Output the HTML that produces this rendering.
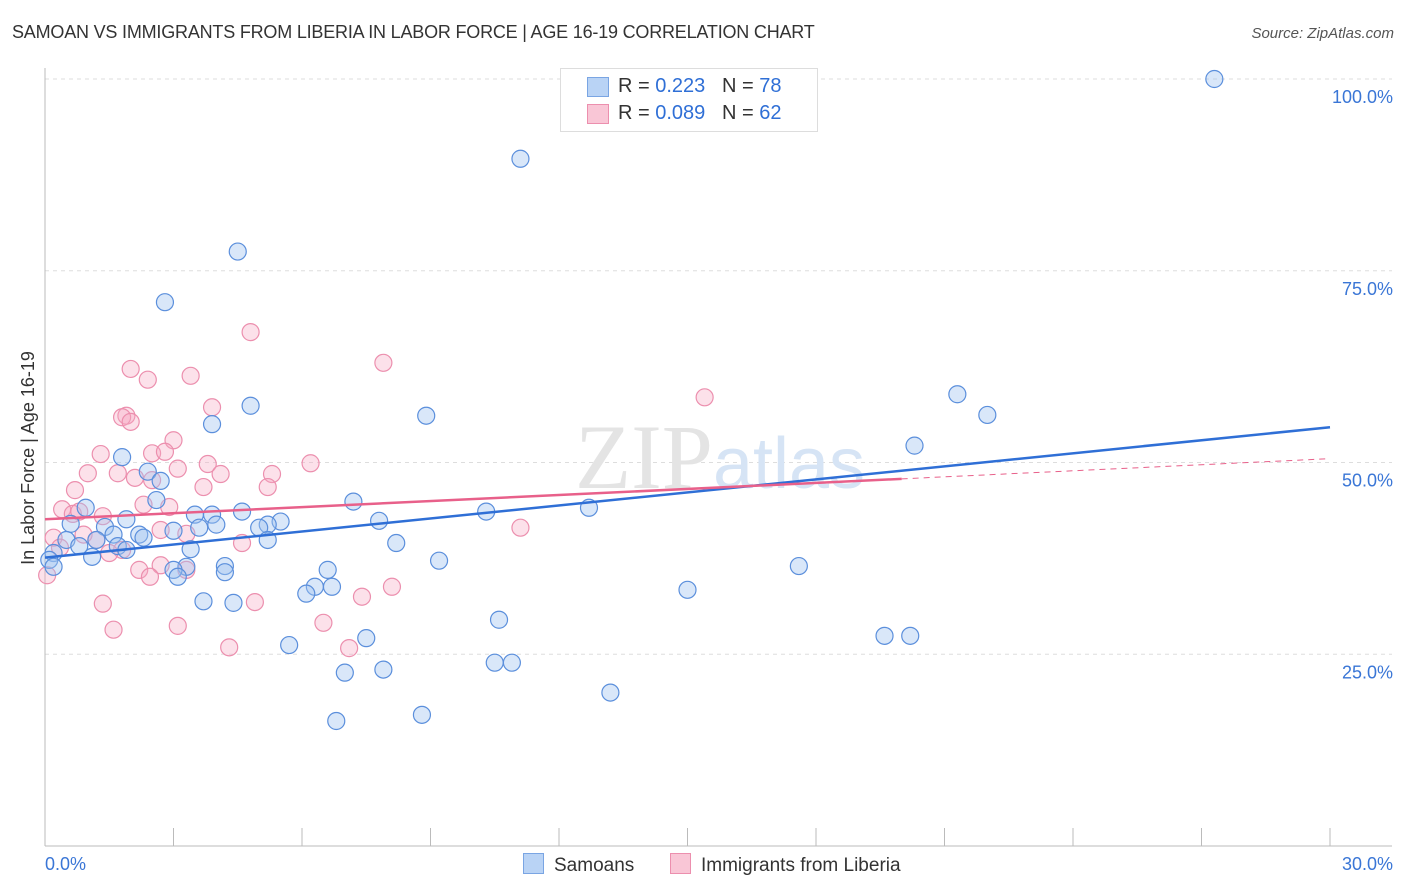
<!DOCTYPE html>
<html><head><meta charset="utf-8">
<style>
body{margin:0;background:#fff;font-family:"Liberation Sans",sans-serif;}
#wrap{position:relative;width:1406px;height:892px;overflow:hidden;}
.t{position:absolute;white-space:nowrap;}
</style></head>
<body>
<div id="wrap">
<div class="t" style="left:12px;top:22px;font-size:18px;color:#333;letter-spacing:-0.2px;">SAMOAN VS IMMIGRANTS FROM LIBERIA IN LABOR FORCE | AGE 16-19 CORRELATION CHART</div>
<div class="t" style="right:12px;top:25px;font-size:15px;color:#555;font-style:italic;">Source: ZipAtlas.com</div>
<svg id="chart" width="1406" height="892" style="position:absolute;left:0;top:0"></svg>
</div>
<script>
const xTicks=[0,3,6,9,12,15,18,21,24,27,30];
const yTicks=[25,50,75,100];
const blueX=[27.3,14.0,11.1,4.5,2.8,4.8,8.9,21.3,22.0,3.9,20.3,1.8,2.4,2.7,2.6,7.2,0.95,12.7,10.3,4.6,3.9,3.5,7.8,5.5,1.9,0.6,1.4,4.0,5.2,5.0,3.0,3.6,1.6,2.2,2.3,5.2,1.2,0.5,8.2,1.7,0.8,1.9,3.4,0.2,1.1,0.1,0.2,9.2,17.6,4.2,3.3,3.0,4.2,6.6,3.1,6.3,6.7,6.1,15.0,3.7,4.4,10.6,7.5,19.6,20.2,5.7,10.5,10.9,7.9,7.0,13.2,8.8,6.8];
const blueY=[100,100,89.6,77.5,70.9,57.4,56.1,58.9,56.2,55.0,52.2,50.7,48.8,47.6,45.1,44.9,44.1,44.1,43.6,43.6,43.2,43.2,42.4,42.3,42.6,42.0,41.6,41.9,41.9,41.5,41.1,41.5,40.6,40.6,40.2,39.9,39.9,39.9,39.5,39.1,39.1,38.6,38.7,38.2,37.7,37.3,36.4,37.2,36.5,36.5,36.4,36.0,35.7,36.0,35.1,33.8,33.8,32.9,33.4,31.9,31.7,29.5,27.1,27.4,27.4,26.2,23.9,23.9,23.0,22.6,20.0,17.1,16.3];
const pinkX=[4.8,7.9,2.0,2.4,3.4,15.4,3.9,1.9,1.8,2.0,3.0,1.3,2.5,2.8,3.8,6.2,1.0,1.7,3.1,5.3,4.1,2.1,2.5,3.7,5.2,0.7,2.3,2.9,0.4,0.65,0.8,1.35,11.1,2.7,3.3,0.9,0.2,1.2,4.6,0.35,1.8,1.5,2.7,3.3,2.2,0.05,2.45,8.1,7.4,1.35,4.9,6.5,3.1,1.6,4.3,7.1];
const pinkY=[67.0,63.0,62.2,60.8,61.3,58.5,57.2,56.1,55.9,55.3,52.9,51.1,51.2,51.4,49.8,49.9,48.6,48.6,49.2,48.5,48.5,48.0,47.7,46.8,46.8,46.4,44.5,44.2,43.9,43.3,43.6,43.0,41.5,41.2,40.7,40.6,40.2,39.9,39.5,38.9,38.6,38.2,36.6,36.0,36.0,35.3,35.1,33.8,32.5,31.6,31.8,29.1,28.7,28.2,25.9,25.8];
const blueFit=[37.6,54.6];
const pinkFit=[42.6,50.5];
const pinkSolidEnd=20;

const X=v=>45+v/30*1285;
const Y=v=>846-v/100*767;
const svg=document.getElementById('chart');
const NS='http://www.w3.org/2000/svg';
function mk(t,a){const e=document.createElementNS(NS,t);for(const k in a)e.setAttribute(k,a[k]);svg.appendChild(e);return e;}

// gridlines
yTicks.forEach(v=>{
 const g=mk('line',{x1:45,x2:1392,y1:Y(v),y2:Y(v),stroke:'#ddd','stroke-dasharray':'4,4'});
 
 
 const t=mk('text',{x:1393,y:Y(v)+24,'text-anchor':'end','font-size':18,fill:'#3a76d6','font-family':'Liberation Sans, sans-serif'});
 t.textContent=v.toFixed(1)+'%';
 
 
});
// axes
const ya=mk('line',{x1:45,x2:45,y1:68,y2:846,stroke:'#bbb'});


const xa=mk('line',{x1:45,x2:1392,y1:846,y2:846,stroke:'#bbb'});


xTicks.forEach(v=>{
 const l=mk('line',{x1:X(v),x2:X(v),y1:828,y2:846,stroke:'#bbb'});
 
 
});
[[0,'start',45],[30,'end',1393]].forEach(([v,a,x])=>{
 const t=mk('text',{x:x,y:870,'text-anchor':a,'font-size':18,fill:'#3a76d6','font-family':'Liberation Sans, sans-serif'});
 t.textContent=v.toFixed(1)+'%';
 
 
});
const yt=mk('text',{x:0,y:0,transform:'translate(34,458) rotate(-90)','text-anchor':'middle','font-size':18,fill:'#333','font-family':'Liberation Sans, sans-serif'});
yt.textContent='In Labor Force | Age 16-19';


// watermark
const wm=mk('text',{x:720,y:488,'text-anchor':'middle','font-size':92,fill:'#e4e4e4','font-family':'Liberation Serif, serif'});
wm.innerHTML='ZIP<tspan fill="#d6e4f5" font-family="Liberation Sans, sans-serif" font-size="72">atlas</tspan>';


// points
pinkX.forEach((x,i)=>{
 const c=mk('circle',{cx:X(x),cy:Y(pinkY[i]),r:8.5,fill:'rgba(246,170,195,0.35)',stroke:'#ec8fae','stroke-width':1.2});
 
 
});
blueX.forEach((x,i)=>{
 const c=mk('circle',{cx:X(x),cy:Y(blueY[i]),r:8.5,fill:'rgba(160,195,240,0.4)',stroke:'#5b8fdc','stroke-width':1.2});
 
 
});
// trend lines
const bl=mk('line',{x1:X(0),y1:Y(blueFit[0]),x2:X(30),y2:Y(blueFit[1]),stroke:'#2f6fd6','stroke-width':2.5});


const pm=pinkFit[0]+(pinkFit[1]-pinkFit[0])*pinkSolidEnd/30;
const pl=mk('line',{x1:X(0),y1:Y(pinkFit[0]),x2:X(pinkSolidEnd),y2:Y(pm),stroke:'#e8608a','stroke-width':2.5});


const pd=mk('line',{x1:X(pinkSolidEnd),y1:Y(pm),x2:X(30),y2:Y(pinkFit[1]),stroke:'#e8608a','stroke-width':1,'stroke-dasharray':'6,5'});


</script>
<div class="t" style="left:560px;top:68px;width:256px;height:62px;background:#fff;border:1px solid #ddd;font-size:20px;color:#333;">
 <div style="position:absolute;left:26px;top:8px;width:20px;height:18px;background:#b9d3f5;border:1px solid #7aa5e3;"></div>
 <div style="position:absolute;left:57px;top:6px;">R = <span style="color:#2f6fd6">0.223</span>&nbsp;&nbsp;&nbsp;N = <span style="color:#2f6fd6">78</span></div>
 <div style="position:absolute;left:26px;top:35px;width:20px;height:18px;background:#f9c6d6;border:1px solid #ec8fae;"></div>
 <div style="position:absolute;left:57px;top:33px;">R = <span style="color:#2f6fd6">0.089</span>&nbsp;&nbsp;&nbsp;N = <span style="color:#2f6fd6">62</span></div>
</div>
<div class="t" style="left:523px;top:853px;font-size:19px;color:#333;">
 <span style="display:inline-block;width:19px;height:19px;background:#b9d3f5;border:1px solid #7aa5e3;vertical-align:-3px;margin-right:10px;"></span>Samoans</div>
<div class="t" style="left:670px;top:853px;font-size:19px;color:#333;">
 <span style="display:inline-block;width:19px;height:19px;background:#f9c6d6;border:1px solid #ec8fae;vertical-align:-3px;margin-right:10px;"></span>Immigrants from Liberia</div>
</body></html>
